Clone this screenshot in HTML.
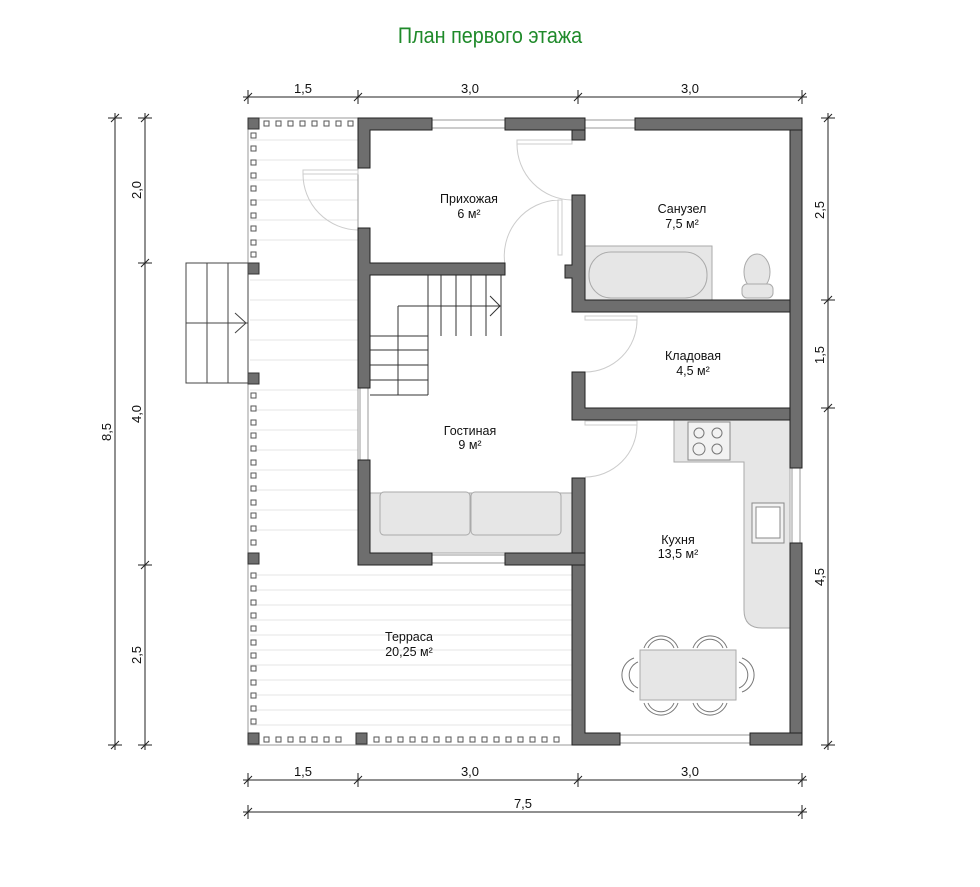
<!DOCTYPE html>
<html><head><meta charset="utf-8"><style>
html,body{margin:0;padding:0;background:#fff;}
svg{display:block;font-family:"Liberation Sans",sans-serif;}
</style></head><body>
<svg width="980" height="887" viewBox="0 0 980 887" xmlns="http://www.w3.org/2000/svg">
<rect width="980" height="887" fill="#fff"/>
<text x="490" y="43" text-anchor="middle" font-size="22" fill="#1f8a2a" transform="translate(490 0) scale(0.9 1) translate(-490 0)">План первого этажа</text>

<!-- terrace boards -->
<g stroke="#e6e6e6" stroke-width="1">
<path d="M250 140H358M250 160H358M250 180H358M250 200H358M250 220H358M250 240H358M250 280H358M250 300H358M250 320H358M250 340H358M250 360H358M250 390H358M250 410H358M250 430H358M250 450H358M250 470H358M250 490H358M250 510H358M250 530H358M250 575H572M250 590H572M250 605H572M250 620H572M250 635H572M250 650H572M250 665H572M250 680H572M250 695H572M250 710H572M250 725H572"/>
</g>
<path d="M248 118H358M248 118V745H572M358 118V553" fill="none" stroke="#999" stroke-width="1"/>
<!-- small posts -->
<g fill="#fff" stroke="#555" stroke-width="1">
<rect x="264" y="121" width="5" height="5"/><rect x="276" y="121" width="5" height="5"/><rect x="288" y="121" width="5" height="5"/><rect x="300" y="121" width="5" height="5"/><rect x="312" y="121" width="5" height="5"/><rect x="324" y="121" width="5" height="5"/><rect x="336" y="121" width="5" height="5"/><rect x="348" y="121" width="5" height="5"/>
<rect x="251" y="133" width="5" height="5"/><rect x="251" y="146" width="5" height="5"/><rect x="251" y="160" width="5" height="5"/><rect x="251" y="173" width="5" height="5"/><rect x="251" y="186" width="5" height="5"/><rect x="251" y="200" width="5" height="5"/><rect x="251" y="213" width="5" height="5"/><rect x="251" y="226" width="5" height="5"/><rect x="251" y="240" width="5" height="5"/><rect x="251" y="252" width="5" height="5"/>
<rect x="251" y="393" width="5" height="5"/><rect x="251" y="406" width="5" height="5"/><rect x="251" y="420" width="5" height="5"/><rect x="251" y="433" width="5" height="5"/><rect x="251" y="446" width="5" height="5"/><rect x="251" y="460" width="5" height="5"/><rect x="251" y="473" width="5" height="5"/><rect x="251" y="486" width="5" height="5"/><rect x="251" y="500" width="5" height="5"/><rect x="251" y="513" width="5" height="5"/><rect x="251" y="526" width="5" height="5"/><rect x="251" y="540" width="5" height="5"/>
<rect x="251" y="573" width="5" height="5"/><rect x="251" y="586" width="5" height="5"/><rect x="251" y="600" width="5" height="5"/><rect x="251" y="613" width="5" height="5"/><rect x="251" y="626" width="5" height="5"/><rect x="251" y="640" width="5" height="5"/><rect x="251" y="653" width="5" height="5"/><rect x="251" y="666" width="5" height="5"/><rect x="251" y="680" width="5" height="5"/><rect x="251" y="693" width="5" height="5"/><rect x="251" y="706" width="5" height="5"/><rect x="251" y="719" width="5" height="5"/>
<rect x="264" y="737" width="5" height="5"/><rect x="276" y="737" width="5" height="5"/><rect x="288" y="737" width="5" height="5"/><rect x="300" y="737" width="5" height="5"/><rect x="312" y="737" width="5" height="5"/><rect x="324" y="737" width="5" height="5"/><rect x="336" y="737" width="5" height="5"/>
<rect x="374" y="737" width="5" height="5"/><rect x="386" y="737" width="5" height="5"/><rect x="398" y="737" width="5" height="5"/><rect x="410" y="737" width="5" height="5"/><rect x="422" y="737" width="5" height="5"/><rect x="434" y="737" width="5" height="5"/><rect x="446" y="737" width="5" height="5"/><rect x="458" y="737" width="5" height="5"/><rect x="470" y="737" width="5" height="5"/><rect x="482" y="737" width="5" height="5"/><rect x="494" y="737" width="5" height="5"/><rect x="506" y="737" width="5" height="5"/><rect x="518" y="737" width="5" height="5"/><rect x="530" y="737" width="5" height="5"/><rect x="542" y="737" width="5" height="5"/><rect x="554" y="737" width="5" height="5"/>
</g>
<g fill="#6e6e6e" stroke="#333" stroke-width="1">
<rect x="248" y="118" width="11" height="11"/><rect x="248" y="263" width="11" height="11"/><rect x="248" y="373" width="11" height="11"/><rect x="248" y="553" width="11" height="11"/><rect x="248" y="733" width="11" height="11"/><rect x="356" y="733" width="11" height="11"/>
</g>

<!-- entrance steps -->
<g fill="none" stroke="#444" stroke-width="1">
<rect x="186" y="263" width="62" height="120"/>
<path d="M207 263V383M228 263V383M186 323H248M235 313L246 323L235 333"/>
</g>

<!-- interior stairs -->
<g fill="none" stroke="#333" stroke-width="1">
<path d="M428 275V336M441 275V336M456 275V336M471 275V336M486 275V336M501 275V336M398 306H501M428 336H370M398 306V395M370 350H428M370 365H428M370 380H428M370 395H428M428 336V395"/>
<path d="M490 296L500 306L490 316"/>
</g>

<!-- furniture -->
<g fill="#e6e6e6" stroke="#aaa" stroke-width="1">
<rect x="370" y="493" width="202" height="60"/>
<rect x="380" y="492" width="90" height="43" rx="4"/>
<rect x="471" y="492" width="90" height="43" rx="4"/>
<rect x="585" y="246" width="127" height="54"/>
<rect x="589" y="252" width="118" height="46" rx="22"/>
<ellipse cx="757" cy="272" rx="13" ry="18"/>
<rect x="742" y="284" width="31" height="14" rx="5"/>
<path d="M674 420H790V628H762Q744 628 744 610V462H674Z"/>
<rect x="688" y="422" width="42" height="38" fill="#f2f2f2" stroke="#888"/>
<rect x="752" y="503" width="32" height="40" fill="#f2f2f2" stroke="#888"/>
<rect x="756" y="507" width="24" height="31" fill="#fff" stroke="#888"/>
<rect x="640" y="650" width="96" height="50"/>
</g>
<g fill="none" stroke="#777" stroke-width="1">
<circle cx="699" cy="433" r="5"/><circle cx="717" cy="433" r="5"/><circle cx="699" cy="449" r="6"/><circle cx="717" cy="449" r="5"/>
<path d="M648 648a14 14 0 0 1 26 0M697 648a14 14 0 0 1 26 0M648 703a14 14 0 0 0 26 0M697 703a14 14 0 0 0 26 0M638 662a14 14 0 0 0 0 26M739 662a14 14 0 0 1 0 26"/>
<path d="M644 648a18 18 0 0 1 34 0M693 648a18 18 0 0 1 34 0M644 703a18 18 0 0 0 34 0M693 703a18 18 0 0 0 34 0M634 658a18 18 0 0 0 0 34M742 658a18 18 0 0 1 0 34"/>
</g>

<!-- doors -->
<g fill="none" stroke="#ccc" stroke-width="1">
<path d="M303 170H358V174H303Z M303 174A56 56 0 0 0 358 230"/>
<path d="M517 140H572V144H517Z M517 144A56 56 0 0 0 572 200"/>
<path d="M558 200H562V255H558Z M558 200A56 56 0 0 0 505 265"/>
<path d="M585 316H637V320H585Z M637 320A52 52 0 0 1 585 372"/>
<path d="M585 421H637V425H585Z M637 425A52 52 0 0 1 585 477"/>
</g>
<!-- windows -->
<g fill="#fff" stroke="#999" stroke-width="1">
<rect x="432" y="120" width="73" height="8"/><rect x="585" y="120" width="50" height="8"/>
<rect x="360" y="388" width="8" height="72"/><rect x="432" y="555" width="73" height="8"/>
<rect x="620" y="735" width="130" height="8"/><rect x="792" y="468" width="8" height="75"/>
</g>

<!-- walls -->
<g fill="#6e6e6e" stroke="#222" stroke-width="1">
<path d="M358 118H432V130H370V168H358Z"/>
<rect x="505" y="118" width="80" height="12"/>
<rect x="572" y="130" width="13" height="10"/>
<rect x="635" y="118" width="167" height="12"/>
<rect x="790" y="130" width="12" height="338"/>
<rect x="790" y="543" width="12" height="202"/>
<rect x="750" y="733" width="52" height="12"/>
<path d="M572 478H585V733H620V745H572Z"/>
<path d="M358 228H370V263H505V275H370V388H358Z"/>
<path d="M358 460H370V553H432V565H358Z"/>
<rect x="505" y="553" width="80" height="12"/>
<path d="M572 195H585V300H790V312H572V278H565V265H572Z"/>
<path d="M572 372H585V408H790V420H572Z"/>
</g>

<!-- labels -->
<g font-size="12.5" fill="#111" text-anchor="middle">
<text x="469" y="203">Прихожая</text><text x="469" y="218">6 м²</text>
<text x="682" y="213">Санузел</text><text x="682" y="228">7,5 м²</text>
<text x="693" y="360">Кладовая</text><text x="693" y="375">4,5 м²</text>
<text x="470" y="435">Гостиная</text><text x="470" y="449">9 м²</text>
<text x="678" y="544">Кухня</text><text x="678" y="558">13,5 м²</text>
<text x="409" y="641">Терраса</text><text x="409" y="656">20,25 м²</text>
</g>

<!-- dimensions -->
<g stroke="#222" stroke-width="1" fill="none">
<path d="M243 97H807M248 90V104M358 90V104M578 90V104M802 90V104M244 101L252 93M354 101L362 93M574 101L582 93M798 101L806 93"/>
<path d="M243 780H807M248 773V787M358 773V787M578 773V787M802 773V787M244 784L252 776M354 784L362 776M574 784L582 776M798 784L806 776"/>
<path d="M243 812H807M248 805V819M802 805V819M244 816L252 808M798 816L806 808"/>
<path d="M145 113V750M138 118H152M138 263H152M138 565H152M138 745H152M141 122L149 114M141 267L149 259M141 569L149 561M141 749L149 741"/>
<path d="M115 113V750M108 118H122M108 745H122M111 122L119 114M111 749L119 741"/>
<path d="M828 113V750M821 118H835M821 300H835M821 408H835M821 745H835M824 122L832 114M824 304L832 296M824 412L832 404M824 749L832 741"/>
</g>
<g font-size="13" fill="#111" text-anchor="middle">
<text x="303" y="93">1,5</text><text x="470" y="93">3,0</text><text x="690" y="93">3,0</text>
<text x="303" y="776">1,5</text><text x="470" y="776">3,0</text><text x="690" y="776">3,0</text>
<text x="523" y="808">7,5</text>
<text transform="translate(141 190) rotate(-90)">2,0</text>
<text transform="translate(141 414) rotate(-90)">4,0</text>
<text transform="translate(141 655) rotate(-90)">2,5</text>
<text transform="translate(111 432) rotate(-90)">8,5</text>
<text transform="translate(824 210) rotate(-90)">2,5</text>
<text transform="translate(824 355) rotate(-90)">1,5</text>
<text transform="translate(824 577) rotate(-90)">4,5</text>
</g>
</svg>
</body></html>
